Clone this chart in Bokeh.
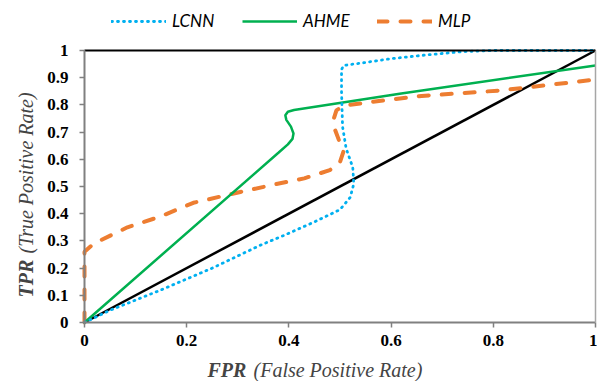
import math
from bokeh.plotting import figure
from bokeh.models import Range1d, FixedTicker, Label, Legend, LegendItem, LinearAxis
from bokeh.embed import file_html
from bokeh.resources import INLINE

# ---- data ----
lcnn_fpr = [0, 0.05, 0.15, 0.25, 0.345, 0.39, 0.45, 0.50, 0.52, 0.527, 0.525, 0.512, 0.505, 0.503, 0.503, 0.507, 0.55, 0.60, 0.66, 0.74, 0.80, 1.0]
lcnn_tpr = [0, 0.045, 0.12, 0.20, 0.285, 0.32, 0.37, 0.415, 0.46, 0.51, 0.57, 0.64, 0.72, 0.85, 0.93, 0.945, 0.956, 0.97, 0.982, 0.996, 1.0, 1.0]

ahme_fpr = [0, 0.38, 0.398, 0.407, 0.409, 0.404, 0.395, 0.393, 0.398, 0.41, 0.62, 1.0]
ahme_tpr = [0, 0.625, 0.655, 0.675, 0.695, 0.72, 0.745, 0.762, 0.775, 0.781, 0.842, 0.945]

mlp_fpr = [0, 0, 0.018, 0.084, 0.149, 0.213, 0.305, 0.378, 0.43, 0.48, 0.50, 0.507, 0.50, 0.49, 0.488, 0.493, 0.507, 0.58, 0.66, 0.814, 1.0]
mlp_tpr = [0, 0.26, 0.29, 0.35, 0.39, 0.44, 0.48, 0.51, 0.53, 0.56, 0.59, 0.63, 0.66, 0.71, 0.75, 0.78, 0.797, 0.815, 0.833, 0.853, 0.893]

ref_fpr = [0, 1]
ref_tpr = [0, 1]

x_ticks = [0, 0.2, 0.4, 0.6, 0.8, 1]
x_tick_labels = ["0", "0.2", "0.4", "0.6", "0.8", "1"]
y_ticks = [0, 0.1, 0.2, 0.3, 0.4, 0.5, 0.6, 0.7, 0.8, 0.9, 1]
y_tick_labels = ["0", "0.1", "0.2", "0.3", "0.4", "0.5", "0.6", "0.7", "0.8", "0.9", "1"]

series_names = ["LCNN", "AHME", "MLP"]
x_title_bold, x_title_rest = "FPR", "(False Positive Rate)"
y_title_bold, y_title_rest = "TPR", "(True Positive Rate)"

SERIF = "Liberation Serif"

# canvas geometry (pixels): plot area spans x 84..595, y 50..322 in a 597x381 canvas
W, H = 597, 381
PX_X, PX_Y = 511.0, 272.0
LEFT, BOTTOM = 84, 59

p = figure(width=W, height=H, output_backend="svg", toolbar_location=None, title_location=None,
           x_range=Range1d(-LEFT / PX_X, (W - LEFT) / PX_X),
           y_range=Range1d(-BOTTOM / PX_Y, (H - BOTTOM) / PX_Y),
           min_border=0, min_border_left=0, min_border_right=0, min_border_top=0, min_border_bottom=0)
p.xgrid.visible = False
p.ygrid.visible = False
p.outline_line_color = None
p.background_fill_color = "white"
p.border_fill_color = "white"

for ax in (p.xaxis[0], p.yaxis[0]):
    ax.fixed_location = 0
    ax.bounds = (0, 1)
    ax.axis_line_color = "#808080"
    ax.axis_line_width = 2
    ax.major_tick_line_color = "#808080"
    ax.major_tick_line_width = 1.5
    ax.major_tick_out = 5
    ax.major_tick_in = 0
    ax.minor_tick_line_color = None
    ax.major_label_text_font = SERIF
    ax.major_label_text_font_style = "bold"
    ax.major_label_text_font_size = "17px"
    ax.major_label_text_color = "black"

p.xaxis.ticker = FixedTicker(ticks=x_ticks)
p.xaxis.major_label_overrides = {t: l for t, l in zip(x_ticks, x_tick_labels)}
p.xaxis.major_label_standoff = 7
p.yaxis.ticker = FixedTicker(ticks=y_ticks)
p.yaxis.major_label_overrides = {t: l for t, l in zip(y_ticks, y_tick_labels)}
p.yaxis.major_label_standoff = 11

# frame edges: grey right edge, black top edge (axes without ticks)
right_edge = LinearAxis(fixed_location=1, bounds=(0, 1), axis_line_color="#A6A6A6", axis_line_width=1.5,
                        ticker=FixedTicker(ticks=[]), major_tick_line_color=None, minor_tick_line_color=None)
top_edge = LinearAxis(fixed_location=1, bounds=(0, 1), axis_line_color="black", axis_line_width=2,
                      ticker=FixedTicker(ticks=[]), major_tick_line_color=None, minor_tick_line_color=None)
p.add_layout(right_edge, "right")
p.add_layout(top_edge, "above")

# ---- curves ----
p.line(ref_fpr, ref_tpr, line_color="black", line_width=2.5)
r_mlp = p.line(mlp_fpr, mlp_tpr, line_color="#ED7D31", line_width=4, line_dash="10 13", line_cap="round")
r_ahme = p.line(ahme_fpr, ahme_tpr, line_color="#00B050", line_width=2.5)
r_lcnn = p.line(lcnn_fpr, lcnn_tpr, line_color="#00B0F0", line_width=2.8, line_dash="1 5", line_cap="round")

# ---- legend above the plot area ----
legend_x = [111, 242, 377]
for name, rend, lx in zip(series_names, [r_lcnn, r_ahme, r_mlp], legend_x):
    lg = Legend(items=[LegendItem(label=name, renderers=[rend])], location=(lx, H - 31),
                orientation="horizontal", glyph_width=55, glyph_height=20, label_height=20,
                label_standoff=6, padding=0, margin=0, spacing=0,
                border_line_color=None, background_fill_alpha=0,
                label_text_font="Lato", label_text_font_style="italic",
                label_text_font_size="17px", label_text_color="black")
    p.add_layout(lg, "center")

# ---- axis titles (mixed bold / italic) ----
xt_y = (322 - 369) / PX_Y
p.add_layout(Label(x=(207 - LEFT) / PX_X, y=xt_y, text=x_title_bold, text_font=SERIF,
                   text_font_style="bold italic", text_font_size="20px",
                   text_align="left", text_baseline="alphabetic"))
p.add_layout(Label(x=(253 - LEFT) / PX_X, y=xt_y, text=x_title_rest, text_font=SERIF,
                   text_font_style="italic", text_font_size="20px",
                   text_align="left", text_baseline="alphabetic"))
yt_x = (25 - LEFT) / PX_X
p.add_layout(Label(x=yt_x, y=(322 - 297) / PX_Y, text=y_title_bold, angle=math.pi / 2, text_font=SERIF,
                   text_font_style="bold italic", text_font_size="20px",
                   text_align="left", text_baseline="alphabetic"))
p.add_layout(Label(x=yt_x, y=(322 - 253) / PX_Y, text=y_title_rest, angle=math.pi / 2, text_font=SERIF,
                   text_font_style="italic", text_font_size="20px",
                   text_align="left", text_baseline="alphabetic"))

open("out.html", "w").write(file_html(p, INLINE))
